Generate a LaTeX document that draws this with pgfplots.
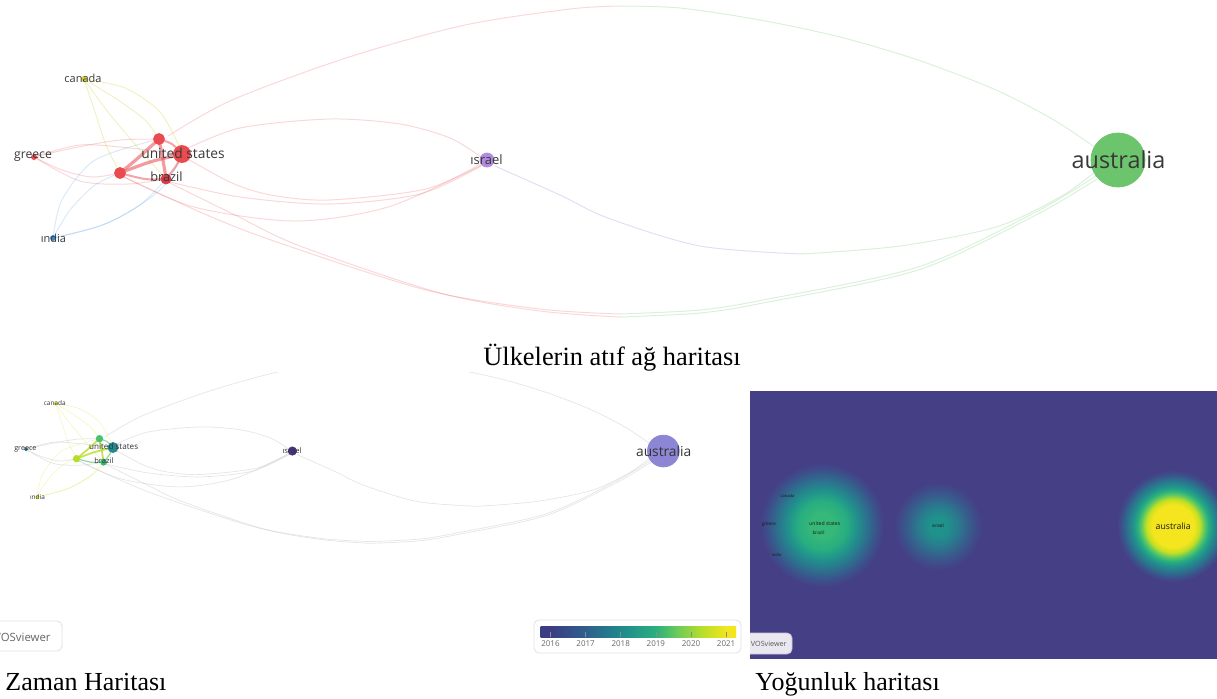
\documentclass[border=0pt]{standalone}
\usepackage{pgfplots}
\pgfplotsset{compat=1.18}
\usepackage{pgfplotstable}
\usepackage{fontspec}
\setmainfont{Liberation Serif}
\newfontfamily\vos{Open Sans}

% network colours
\definecolor{vosred}{HTML}{E94B51}
\definecolor{vosred2}{HTML}{D93A44}
\definecolor{vosyel}{HTML}{D2CC2C}
\definecolor{vosblu}{HTML}{3A88CF}
\definecolor{vospur}{HTML}{B18BDF}
\definecolor{vosgrn}{HTML}{6CC46C}
% overlay colours
\definecolor{ovteal}{HTML}{22898E}
\definecolor{ovgrn}{HTML}{4AC16D}
\definecolor{ovlime}{HTML}{B6DD2A}
\definecolor{ovgrn2}{HTML}{36B677}
\definecolor{ovyel}{HTML}{D5DF2E}
\definecolor{ovpur}{HTML}{46337F}
\definecolor{ovlav}{HTML}{8C86D4}
\definecolor{ovblu}{HTML}{2A788E}
% colour bar
\definecolor{c0}{HTML}{3B3E82}
\definecolor{c1}{HTML}{2E5F8C}
\definecolor{c2}{HTML}{21898C}
\definecolor{c3}{HTML}{2AAF7D}
\definecolor{c4}{HTML}{6CCB5A}
\definecolor{c5}{HTML}{B5DD2B}
\definecolor{c6}{HTML}{F2E61E}
% density
\definecolor{densbg}{HTML}{453F86}
\definecolor{dY}{HTML}{F4E51E}
\definecolor{dYG}{HTML}{C2DF23}
\definecolor{dG}{HTML}{5EC962}
\definecolor{dGT}{HTML}{27AD81}
\definecolor{dT}{HTML}{21918C}
\definecolor{dTB}{HTML}{2C728E}
\definecolor{dB}{HTML}{3B528B}
\definecolor{usC}{HTML}{36B878}
\definecolor{isC}{HTML}{1F938B}
\definecolor{isM}{HTML}{2A7A8E}
\definecolor{isO}{HTML}{385A8C}

% (TikZ maps a path's box onto the central 50bp of a shading)
\pgfdeclarehorizontalshading{vbar}{100bp}{color(0bp)=(c0); color(27.5bp)=(c0); color(36.5bp)=(c1); color(45.5bp)=(c2); color(54.5bp)=(c3); color(60bp)=(c4); color(66bp)=(c5); color(72.5bp)=(c6); color(100bp)=(c6)}
\pgfdeclareradialshading{densAU}{\pgfpoint{0bp}{0bp}}{color(0bp)=(dY); color(9.5bp)=(dY); color(12bp)=(dYG); color(14bp)=(dG); color(16bp)=(dGT); color(18bp)=(dT); color(20.5bp)=(dTB); color(23bp)=(dB); color(25bp)=(densbg); color(50bp)=(densbg)}
\pgfdeclareradialshading{densUS}{\pgfpoint{0bp}{0bp}}{color(0bp)=(usC); color(5bp)=(usC); color(10bp)=(dGT); color(14bp)=(dT); color(18bp)=(dTB); color(22bp)=(dB); color(25bp)=(densbg); color(50bp)=(densbg)}
\pgfdeclareradialshading{densIS}{\pgfpoint{0bp}{0bp}}{color(0bp)=(isC); color(5bp)=(isC); color(11.5bp)=(isM); color(18bp)=(isO); color(25bp)=(densbg); color(50bp)=(densbg)}

% nodes of the map (top-map pixel coordinates)
\pgfplotstableread{
x y r tc oc
182 154 8.5 red ovteal
159 139 5.5 red ovgrn
120 173 5.5 red ovlime
166 179 5 red2 ovgrn2
84 79 2.5 yel ovyel
34 157 2.5 red ovblu
53 238 2.5 blu ovyel
487 160 7 pur ovpur
1118 160 27 grn ovlav
}\nodetab

\newcommand{\E}[2]{\addplot[#1,smooth,no markers,forget plot] coordinates {#2};}
\newcommand{\drawedges}{%
 % upper big arc to australia
 \E{eR}{(168,136) (232,100) (349,57) (465,25) (570,9) (620,6)}
 \E{eG}{(620,6) (680,8) (760,20) (840,37) (918,60) (996,90) (1054,120) (1096,148)}
 % israel - australia
 \E{eP}{(495,166) (560,195) (608,218) (700,246) (802,254)}
 \E{eG}{(802,254) (900,246) (996,227) (1060,197) (1095,172)}
 % lower arcs to australia
 \E{eR}{(120,175) (200,212) (271,240) (426,290) (540,309) (620,314)}
 \E{eG}{(620,314) (700,310) (763,300) (918,267) (1034,213) (1096,176)}
 \E{eR}{(166,181) (235,215) (300,246) (440,293) (540,311) (620,317)}
 \E{eG}{(620,317) (700,313) (763,303) (918,270) (1034,216) (1097,179)}
 % cluster - israel
 \E{eR}{(184,150) (240,128) (329,119) (400,124) (450,138) (481,157)}
 \E{eR}{(186,158) (232,183) (271,195) (329,200) (426,189) (482,163)}
 \E{eR}{(120,175) (194,207) (295,221) (388,207) (482,165)}
 \E{eR}{(166,181) (240,197) (329,204) (420,194) (481,166)}
 % canada
 \E{eY}{(84,79) (125,88) (160,112) (182,152)}
 \E{eY}{(84,79) (95,112) (106,145) (120,173)}
 \E{eY}{(84,79) (108,112) (140,150) (166,179)}
 \E{eY}{(84,79) (118,100) (145,120) (159,139)}
 % greece
 \E{eR}{(34,157) (80,145) (130,148) (182,154)}
 \E{eR}{(34,157) (62,170) (92,177) (120,173)}
 \E{eR}{(34,157) (80,181) (128,184) (166,179)}
 \E{eR}{(34,157) (78,147) (120,140) (159,139)}
 % india
 \E{eB}{(53,238) (70,210) (95,185) (120,173)}
 \E{eB}{(53,238) (100,226) (140,205) (166,179)}
 \E{eB}{(53,238) (110,222) (160,190) (182,156)}
 \E{eB}{(53,238) (62,200) (95,160) (159,139)}
 % strong links inside the cluster
 \E{eT}{(120,173) (150,162) (182,154)}
 \E{eT}{(159,139) (138,158) (120,173)}
 \E{eT}{(159,139) (163,160) (166,179)}
 \E{eTt}{(166,179) (176,166) (182,154)}
 \E{eTt}{(120,173) (145,179) (166,179)}
 \E{eTt}{(159,139) (172,144) (182,154)}
}
\newcommand{\drawlabels}{%
 \node[lab,font=\vos\fontsize{5.5}{6}\selectfont] at (axis cs:83,78) {canada};
 \node[lab,font=\vos\fontsize{6.1}{7}\selectfont] at (axis cs:33,157) {greece};
 \node[lab,font=\vos\fontsize{6.9}{8}\selectfont] at (axis cs:183,153) {united states};
 \node[lab,font=\vos\fontsize{6.4}{7}\selectfont] at (axis cs:166.5,177) {brazil};
 \node[lab,font=\vos\fontsize{5.5}{6}\selectfont] at (axis cs:53.5,238) {ındia};
 \node[lab,font=\vos\fontsize{6.5}{7}\selectfont] at (axis cs:486.5,160) {ısrael};
 \node[lab,font=\vos\fontsize{11.7}{13}\selectfont] at (axis cs:1118.5,160) {australia};
}

\pgfplotsset{
 topax/.style={at={(0pt,0pt)},anchor=north west,scale only axis,
  width=608.5pt,height=170pt,xmin=0,xmax=1217,ymin=0,ymax=340,
  y dir=reverse,hide axis,clip=false},
 ovax/.style={at={(0pt,-186pt)},anchor=north west,scale only axis,
  width=372.5pt,height=144pt,xmin=-10.2,xmax=1256.8,ymin=25.6,ymax=515.4,
  y dir=reverse,hide axis},
 denax/.style={at={(375pt,-195.5pt)},anchor=north west,scale only axis,
  width=233.5pt,height=134pt,xmin=-17.7,xmax=1236.3,ymin=-202.5,ymax=517.1,
  y dir=reverse,hide axis,clip=false}}

\begin{document}
\begin{tikzpicture}[x=0.5pt,y=-0.5pt]
\useasboundingbox (0,0) rectangle (1217,698);

% ---------------- top: citation network ----------------
\begin{scope}
\tikzset{
 eR/.style={draw=vosred,opacity=0.22,line width=0.5pt},
 eG/.style={draw=vosgrn,opacity=0.25,line width=0.5pt},
 eY/.style={draw=vosyel,opacity=0.28,line width=0.5pt},
 eB/.style={draw=vosblu,opacity=0.18,line width=0.5pt},
 eP/.style={draw=vospur,opacity=0.3,line width=0.5pt},
 eT/.style={draw=vosred,opacity=0.55,line width=1.6pt},
 eTt/.style={draw=vosred,opacity=0.5,line width=1pt},
 lab/.style={inner sep=0pt,anchor=center,text=black!78}}
\begin{axis}[topax]
\drawedges
\addplot[scatter,only marks,mark=*,point meta=explicit symbolic,
 scatter/classes={red={fill=vosred,draw=vosred},red2={fill=vosred2,draw=vosred2},
  yel={fill=vosyel,draw=vosyel},blu={fill=vosblu,draw=vosblu},
  pur={fill=vospur,draw=vospur},grn={fill=vosgrn,draw=vosgrn}},
 visualization depends on={0.5*\thisrow{r} \as \rr},
 scatter/@pre marker code/.append style={/tikz/mark size=\rr pt}]
 table[x=x,y=y,meta=tc] {\nodetab};
\end{axis}
\begin{axis}[topax]
\drawlabels
\end{axis}
\end{scope}

\node[anchor=base,font=\fontsize{13.2}{15}\selectfont] at (612,365) {Ülkelerin atıf ağ haritası};

% ---------------- bottom left: overlay (time) map ----------------
\begin{scope}
\tikzset{
 eR/.style={draw=black!25,opacity=0.4,line width=0.35pt},
 eG/.style={draw=black!25,opacity=0.4,line width=0.35pt},
 eY/.style={draw=ovyel,opacity=0.25,line width=0.35pt},
 eB/.style={draw=ovyel,opacity=0.25,line width=0.35pt},
 eP/.style={draw=black!25,opacity=0.4,line width=0.35pt},
 eT/.style={draw=ovlime,opacity=0.8,line width=0.9pt},
 eTt/.style={draw=ovgrn,opacity=0.6,line width=0.6pt},
 lab/.style={inner sep=0pt,anchor=center,text=black!80,scale=0.588}}
\begin{axis}[ovax]
\drawedges
\addplot[scatter,only marks,mark=*,point meta=explicit symbolic,
 scatter/classes={ovteal={fill=ovteal,draw=ovteal},ovgrn={fill=ovgrn,draw=ovgrn},
  ovlime={fill=ovlime,draw=ovlime},ovgrn2={fill=ovgrn2,draw=ovgrn2},
  ovyel={fill=ovyel,draw=ovyel},ovblu={fill=ovblu,draw=ovblu},
  ovpur={fill=ovpur,draw=ovpur},ovlav={fill=ovlav,draw=ovlav}},
 visualization depends on={0.294*\thisrow{r} \as \rr},
 scatter/@pre marker code/.append style={/tikz/mark size=\rr pt}]
 table[x=x,y=y,meta=oc] {\nodetab};
\end{axis}
\begin{axis}[ovax]
\drawlabels
\end{axis}
\end{scope}

% VOSviewer badge (overlay)
\draw[draw=black!12,fill=white,rounded corners=2.5pt,line width=0.4pt] (-10,621) rectangle (62,651);
\node[anchor=east,font=\vos\fontsize{5.7}{6}\selectfont,text=black!60,inner sep=0pt] at (51,637) {VOSviewer};

% colour bar
\draw[draw=black!12,fill=white,rounded corners=2.5pt,line width=0.4pt] (534,620) rectangle (741,653);
\shade[shading=vbar] (540.6,626) rectangle (736,637);
\begin{axis}[at={(270.3pt,-313pt)},anchor=north west,scale only axis,
 width=97.7pt,height=5.5pt,xmin=2015.72,xmax=2021.28,ymin=0,ymax=1,
 axis line style={draw=none},ytick=\empty,xtick={2016,2017,...,2021},
 xtick pos=left,tick align=inside,major tick length=2.5pt,
 tick style={draw=black!45,line width=0.3pt},
 /pgf/number format/assume math mode=true,/pgf/number format/1000 sep={},
 xticklabel style={font=\vos\fontsize{4}{5}\selectfont,text=black!60,inner sep=1.5pt}]
\end{axis}

% ---------------- bottom right: density map ----------------
\fill[densbg] (750,391) rectangle (1217,659);
\begin{scope}
\clip (750,391) rectangle (1217,659);
\begin{axis}[denax]
\addplot[only marks,mark=none,nodes near coords={},
 every node near coord/.style={circle,inner sep=0pt,minimum size=62pt,anchor=center,shade,shading=densUS}]
 coordinates {(176,158)};
\addplot[only marks,mark=none,nodes near coords={},
 every node near coord/.style={circle,inner sep=0pt,minimum size=44pt,anchor=center,shade,shading=densIS}]
 coordinates {(487,160)};
\addplot[only marks,mark=none,nodes near coords={},
 every node near coord/.style={circle,inner sep=0pt,minimum size=56pt,anchor=center,shade,shading=densAU}]
 coordinates {(1118,160)};
\end{axis}
\end{scope}
\begin{scope}
\tikzset{lab/.style={inner sep=0pt,anchor=center,text=black!90,scale=0.3724}}
\begin{axis}[denax]
\drawlabels
\end{axis}
\end{scope}
\begin{scope}
\clip (750,391) rectangle (1217,659);
\draw[draw=white!70!densbg,fill=white!88!densbg,rounded corners=2.5pt,line width=0.4pt] (740,633) rectangle (792,654);
\node[anchor=east,font=\vos\fontsize{3.6}{4}\selectfont,text=black!65,inner sep=0pt] at (787,643.5) {VOSviewer};
\end{scope}

% captions
\node[anchor=base west,font=\fontsize{13}{15}\selectfont,inner sep=0pt] at (5,690) {Zaman Haritası};
\node[anchor=base west,font=\fontsize{13}{15}\selectfont,inner sep=0pt] at (755,690) {Yoğunluk haritası};
\end{tikzpicture}
\end{document}
